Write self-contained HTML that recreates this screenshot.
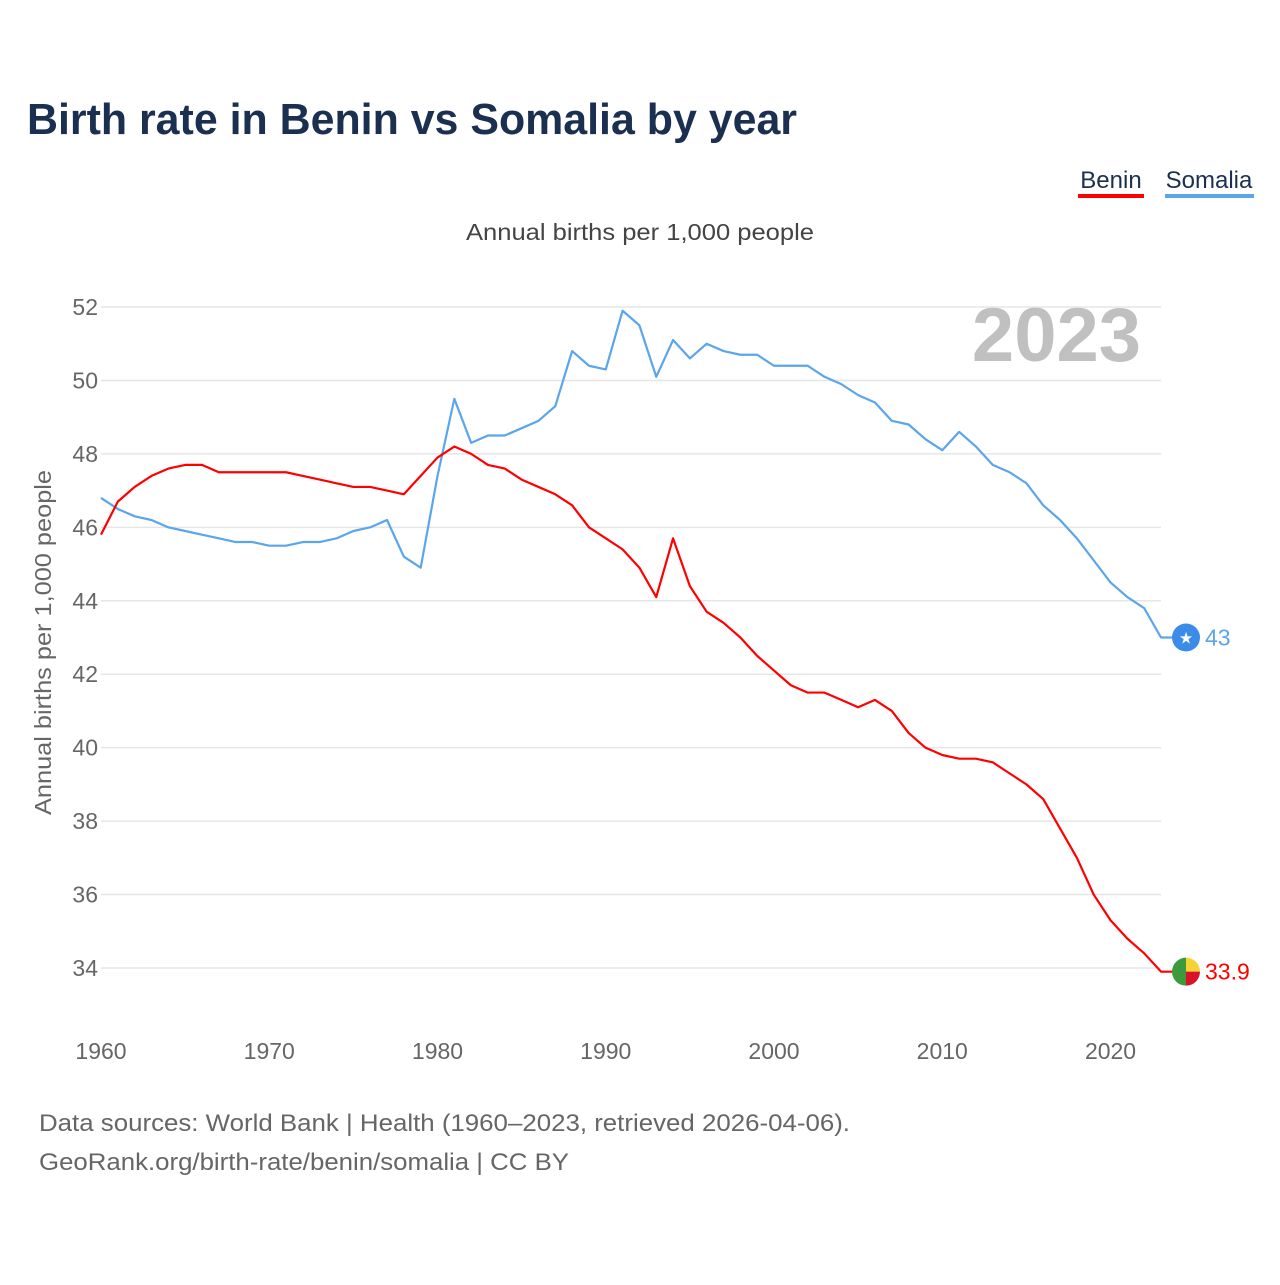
<!DOCTYPE html>
<html><head><meta charset="utf-8"><style>
body{margin:0;background:#fff;width:1280px;height:1280px;overflow:hidden;font-family:"Liberation Sans",sans-serif;}
</style></head><body>
<svg id="chart" width="1280" height="1280" xmlns="http://www.w3.org/2000/svg" font-family="Liberation Sans, sans-serif">
<text x="27" y="134" font-size="44" font-weight="bold" fill="#1b3050" textLength="770" lengthAdjust="spacingAndGlyphs">Birth rate in Benin vs Somalia by year</text>
<g>
<text x="1111" y="188" font-size="24" text-anchor="middle" fill="#1b3050">Benin</text>
<rect x="1078" y="194" width="66" height="4" fill="#ff0000"/>
<text x="1209" y="188" font-size="24" text-anchor="middle" fill="#1b3050">Somalia</text>
<rect x="1165" y="194" width="89" height="4" fill="#5aa5ec"/>
</g>
<text x="466" y="240" font-size="23" fill="#444" textLength="348" lengthAdjust="spacingAndGlyphs">Annual births per 1,000 people</text>
<text transform="translate(51,815) rotate(-90)" font-size="23" fill="#666" textLength="345" lengthAdjust="spacingAndGlyphs">Annual births per 1,000 people</text>
<text x="1141" y="361" font-size="76" font-weight="bold" text-anchor="end" fill="#c0c0c0">2023</text>
<g id="grid"></g><g id="lines"></g>
<text x="39" y="1131" font-size="24" fill="#666" textLength="811" lengthAdjust="spacingAndGlyphs">Data sources: World Bank | Health (1960–2023, retrieved 2026-04-06).</text>
<text x="39" y="1170" font-size="24" fill="#666" textLength="530" lengthAdjust="spacingAndGlyphs">GeoRank.org/birth-rate/benin/somalia | CC BY</text>
</svg>
<script>
const years=[];for(let y=1960;y<=2023;y++)years.push(y);
const benin=[45.8,46.7,47.1,47.4,47.6,47.7,47.7,47.5,47.5,47.5,47.5,47.5,47.4,47.3,47.2,47.1,47.1,47.0,46.9,47.4,47.9,48.2,48.0,47.7,47.6,47.3,47.1,46.9,46.6,46.0,45.7,45.4,44.9,44.1,45.7,44.4,43.7,43.4,43.0,42.5,42.1,41.7,41.5,41.5,41.3,41.1,41.3,41.0,40.4,40.0,39.8,39.7,39.7,39.6,39.3,39.0,38.6,37.8,37.0,36.0,35.3,34.8,34.4,33.9];
const somalia=[46.8,46.5,46.3,46.2,46.0,45.9,45.8,45.7,45.6,45.6,45.5,45.5,45.6,45.6,45.7,45.9,46.0,46.2,45.2,44.9,47.4,49.5,48.3,48.5,48.5,48.7,48.9,49.3,50.8,50.4,50.3,51.9,51.5,50.1,51.1,50.6,51.0,50.8,50.7,50.7,50.4,50.4,50.4,50.1,49.9,49.6,49.4,48.9,48.8,48.4,48.1,48.6,48.2,47.7,47.5,47.2,46.6,46.2,45.7,45.1,44.5,44.1,43.8,43.0];
const yTicks=[34,36,38,40,42,44,46,48,50,52];
const xTicks=[1960,1970,1980,1990,2000,2010,2020];
const NS="http://www.w3.org/2000/svg";
const X=y=>101+(y-1960)*(1161-101)/63;
const Y=v=>968-(v-34)*(968-307)/18;
function mk(t,a,p){const e=document.createElementNS(NS,t);for(const k in a)e.setAttribute(k,a[k]);p.appendChild(e);return e;}
const g=document.getElementById('grid');
yTicks.forEach(v=>{
 const l=mk('line',{x1:101,x2:1161,y1:Y(v),y2:Y(v),stroke:'#e6e6e6','stroke-width':1.5},g);
 
 
 const t=mk('text',{x:98,y:Y(v)+8,'font-size':23,'text-anchor':'end',fill:'#666'},g);t.textContent=v;
 
 
});
xTicks.forEach(v=>{
 const t=mk('text',{x:X(v),y:1059,'font-size':23,'text-anchor':'middle',fill:'#666'},g);t.textContent=v;
 
 
});
const L=document.getElementById('lines');
const n=years.length-1;
function line(vals,color,name){
 const pts=vals.map((v,i)=>X(years[i])+','+Y(v));
 pts.push((X(years[n])+12)+','+Y(vals[n]));
 const p=mk('polyline',{points:pts.join(' '),fill:'none',stroke:color,'stroke-width':2.2,'stroke-linejoin':'round'},L);
 
 
}
line(somalia,'#5aa5ec','somalia-line');
line(benin,'#ff0000','benin-line');
const sy=Y(somalia[n]);
const c=mk('circle',{cx:1186,cy:sy,r:14,fill:'#3b8be8'},L);


const st=mk('text',{x:1186,y:sy+6,'font-size':16,'text-anchor':'middle',fill:'#fff'},L);st.textContent='★';
const sl=mk('text',{x:1205,y:sy+8,'font-size':23,fill:'#5aa5ec'},L);sl.textContent=somalia[n];


const by=Y(benin[n]);const cx=1186,r=14;
mk('path',{d:`M${cx},${by-r} A${r},${r} 0 0,0 ${cx},${by+r} Z`,fill:'#3c9a3c'},L);
mk('path',{d:`M${cx},${by-r} A${r},${r} 0 0,1 ${cx+r},${by} L${cx},${by} Z`,fill:'#f5d334'},L);
mk('path',{d:`M${cx+r},${by} A${r},${r} 0 0,1 ${cx},${by+r} L${cx},${by} Z`,fill:'#d9122a'},L);
const bl=mk('text',{x:1205,y:by+8,'font-size':23,fill:'#ff0000'},L);bl.textContent=benin[n];


</script>
</body></html>
